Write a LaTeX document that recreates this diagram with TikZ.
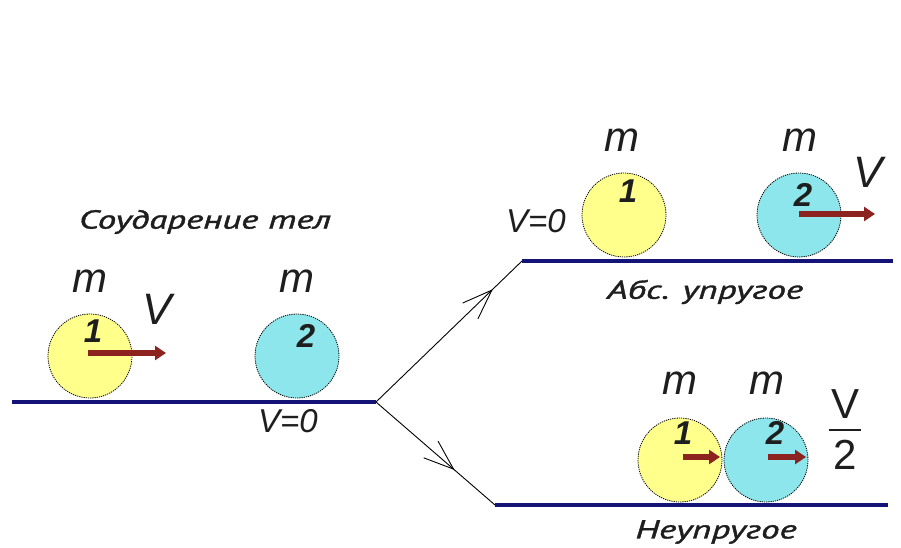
\documentclass[tikz,border=0pt]{standalone}
\usepackage{fontspec}
\setmainfont{Liberation Sans}
\newfontfamily\cyrfont[FakeBold=1.2]{PT Sans}
\usetikzlibrary{arrows.meta,decorations.markings}
\definecolor{navy}{RGB}{20,20,120}
\definecolor{ballY}{RGB}{255,255,140}
\definecolor{ballC}{RGB}{140,230,235}
\definecolor{arr}{RGB}{140,35,30}
\definecolor{txt}{RGB}{30,30,30}
\tikzset{
  track/.style={line width=4pt,navy},
  ball/.style={circle,minimum size=84pt,inner sep=0pt,draw=black,line width=0.8pt,dash pattern=on 1.2pt off 1pt},
  yball/.style={ball,fill=ballY},
  cball/.style={ball,fill=ballC},
  vel/.style={line width=5.5pt,arr,-{Triangle[length=11pt,width=14pt]}},
  branch/.style={line width=0.9pt,black,postaction={decorate}},
  barbat/.style={decoration={markings,mark=at position #1 with {\arrow{Straight Barb[length=30pt,width=22pt,line width=0.9pt]}}}},
  mass/.style={font=\fontsize{42}{44}\selectfont\itshape,text=txt},
  vlab/.style={font=\fontsize{44}{46}\selectfont\itshape,text=txt},
  fraclab/.style={font=\fontsize{42}{44}\selectfont,text=txt,inner sep=0pt},
  vzero/.style={font=\fontsize{33}{35}\selectfont\itshape,text=txt},
  num/.style={font=\fontsize{33}{35}\selectfont\bfseries\itshape,text=txt},
  ttl/.style={font=\cyrfont\fontsize{26}{28}\selectfont\itshape,text=txt,xscale=1.42,transform shape},
}
\begin{document}
\begin{tikzpicture}[x=1pt,y=-1pt]
\useasboundingbox[fill=white] (0,0) rectangle (901,548);
% tracks
\coordinate (a0) at (12,402); \coordinate (a1) at (376,402);
\coordinate (b0) at (522,261); \coordinate (b1) at (893,261);
\coordinate (c0) at (495,505); \coordinate (c1) at (888,505);
\draw[branch,barbat=0.8] (a1) -- (b0);
\draw[branch,barbat=0.66] (a1) -- (c0);
\draw[track] (a0) -- (a1);
\draw[track] (b0) -- (b1);
\draw[track] (c0) -- (c1);
% titles
\node[ttl] (title) at (205,222) {Соударение тел};
\node[ttl] (abs) at (705,292) {Абс. упругое};
\node[ttl] (neu) at (716,532) {Неупругое};
% left balls
\node[yball] (L1) at (90,356) {};
\node[cball] (L2) at (297,356) {};
\node[num] (L1n) at (93,331) {1};
\node[num] (L2n) at (306,336) {2};
\node[mass] (L1m) at (90,281) {m};
\node[mass] (L2m) at (297,281) {m};
\coordinate (L1s) at (88,353);
\coordinate (L1v) at (166,353);
\draw[vel] (L1s) -- (L1v);
\node[vlab] (Lv) at (157,309) {V};
\node[vzero] (Lv0) at (288,421) {V=0};
% upper
\node[yball] (U1) at (624,215) {};
\node[cball] (U2) at (799,215) {};
\node[num] (U1n) at (628,191) {1};
\node[num] (U2n) at (803,195) {2};
\node[mass] (U1m) at (622,140) {m};
\node[mass] (U2m) at (800,140) {m};
\coordinate (U2s) at (799,214);
\coordinate (U2v) at (875,214);
\draw[vel] (U2s) -- (U2v);
\node[vlab] (Uv) at (868,172) {V};
\node[vzero] (Uv0) at (536,221) {V=0};
% lower
\node[yball] (D1) at (680,460) {};
\node[cball] (D2) at (766,460) {};
\node[num] (D1n) at (683,433) {1};
\node[num] (D2n) at (775,433) {2};
\node[mass] (D1m) at (680,383) {m};
\node[mass] (D2m) at (767,383) {m};
\coordinate (D1s) at (683,457);
\coordinate (D1v) at (720,457);
\coordinate (D2s) at (768,457);
\coordinate (D2v) at (806,457);
\draw[vel] (D1s) -- (D1v);
\draw[vel] (D2s) -- (D2v);
\node[fraclab] (Dv) at (845,404) {V};
\node[fraclab] (Dtwo) at (845,455) {2};
\coordinate (fb0) at (829,430); \coordinate (fb1) at (861,430);
\draw[line width=2pt,txt] (fb0) -- (fb1);
\end{tikzpicture}
\end{document}
